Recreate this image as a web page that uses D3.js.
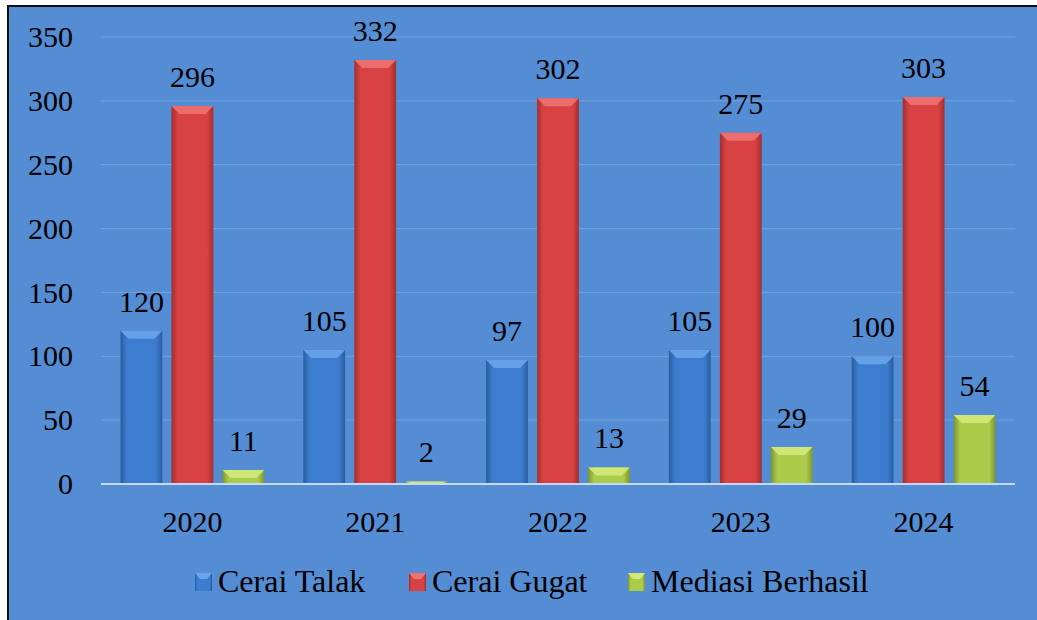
<!DOCTYPE html>
<html>
<head>
<meta charset="utf-8">
<script src="https://cdn.jsdelivr.net/npm/d3@7"></script>
<style>
  body { margin: 0; background: #fff; }
  svg { display: block; }
</style>
</head>
<body>
<div id="chart"></div>
<script>
const years = ["2020", "2021", "2022", "2023", "2024"];
const series = ["Cerai Talak", "Cerai Gugat", "Mediasi Berhasil"];
const ceraiTalak = [120, 105, 97, 105, 100];
const ceraiGugat = [296, 332, 302, 275, 303];
const mediasiBerhasil = [11, 2, 13, 29, 54];
const yTicks = [0, 50, 100, 150, 200, 250, 300, 350];

const width = 1037;
const height = 620;
const margin = {top: 37, right: 22, bottom: 136, left: 101};
const fontSize = 30;
const serif = "'Liberation Serif', 'Times New Roman', 'DejaVu Serif', serif";

const colors = {
  "Cerai Talak":      {mid: "#3c7dcf", edge: "#295d9e", top: "#6aa5ea"},
  "Cerai Gugat":      {mid: "#d84242", edge: "#a52e2e", top: "#ee7272"},
  "Mediasi Berhasil": {mid: "#abcb4b", edge: "#7c9530", top: "#d3ea7a"}
};

const rows = years.map((y, i) => ({
  year: y,
  values: [ceraiTalak[i], ceraiGugat[i], mediasiBerhasil[i]]
}));

const svg = d3.select("#chart")
  .append("svg")
  .attr("width", width)
  .attr("height", height)

// frame
svg.append("rect")
  .attr("x", 8).attr("y", 6)
  .attr("width", width - 8).attr("height", height - 6)
  .attr("fill", "#548dd4")
svg.append("line")
  .attr("x1", 8).attr("x2", 8).attr("y1", 5).attr("y2", height)
  .attr("stroke", "#111").attr("stroke-width", 2)
svg.append("line")
  .attr("x1", 7).attr("x2", width).attr("y1", 6).attr("y2", 6)
  .attr("stroke", "#111").attr("stroke-width", 2)

const defs = svg.append("defs");
series.forEach((s, i) => {
  const g = defs.append("linearGradient")
    .attr("id", "grad" + i)
    .attr("x1", "0%").attr("x2", "100%").attr("y1", "0%").attr("y2", "0%");
  g.append("stop").attr("offset", "0%").attr("stop-color", colors[s].edge);
  g.append("stop").attr("offset", "15%").attr("stop-color", colors[s].mid);
  g.append("stop").attr("offset", "85%").attr("stop-color", colors[s].mid);
  g.append("stop").attr("offset", "100%").attr("stop-color", colors[s].edge);
});

const x0 = d3.scaleBand()
  .domain(years)
  .range([margin.left, width - margin.right])
  .paddingInner(0)
  .paddingOuter(0);

const x1 = d3.scaleBand()
  .domain(series)
  .range([19.5, x0.bandwidth() - 19.5])
  .paddingInner(0.18);

const y = d3.scaleLinear()
  .domain([0, 350])
  .range([height - margin.bottom, margin.top]);

// gridlines
svg.append("g")
  .selectAll("line")
  .data(yTicks.filter(t => t > 0))
  .join("line")
  .attr("x1", margin.left).attr("x2", width - margin.right)
  .attr("y1", d => y(d)).attr("y2", d => y(d))
  .attr("stroke", "#6a9fe0").attr("stroke-width", 1.2)

// y axis labels
const yAxis = svg.append("g")
  .attr("transform", `translate(${margin.left - 28},0)`)
  .call(d3.axisLeft(y).tickValues(yTicks).tickSize(0).tickPadding(0))
yAxis.select(".domain").remove()
yAxis.selectAll("text")
  .style("font-family", serif)
  .attr("font-size", fontSize)
  .attr("fill", "#000")

// bars
const groups = svg.append("g")
  .selectAll("g")
  .data(rows)
  .join("g")
  .attr("transform", d => `translate(${x0(d.year)},0)`)

const bars = groups.selectAll("g")
  .data(d => d.values.map((v, i) => ({key: series[i], idx: i, value: v})))
  .join("g")

bars.append("rect")
  .attr("x", d => x1(d.key))
  .attr("y", d => y(d.value))
  .attr("width", x1.bandwidth())
  .attr("height", d => y(0) - y(d.value))
  .attr("fill", d => `url(#grad${d.idx})`)

// bevel on top
bars.append("path")
  .attr("d", d => {
    const bx = x1(d.key), bw = x1.bandwidth(), by = y(d.value);
    const h = Math.min(8, y(0) - by);
    return `M${bx},${by} L${bx + bw},${by} L${bx + bw - 8},${by + h} L${bx + 8},${by + h} Z`;
  })
  .attr("fill", d => colors[d.key].top)
  .attr("opacity", 0.9)

bars.append("text")
  .attr("x", d => x1(d.key) + x1.bandwidth() / 2)
  .attr("y", d => y(d.value) - 19)
  .attr("text-anchor", "middle")
  .style("font-family", serif)
  .attr("font-size", fontSize)
  .attr("fill", "#000")
  .text(d => d.value)

// baseline
svg.append("line")
  .attr("x1", margin.left).attr("x2", width - margin.right)
  .attr("y1", y(0)).attr("y2", y(0))
  .attr("stroke", "#c6d9f1").attr("stroke-width", 2)

// x axis labels
const xAxis = svg.append("g")
  .attr("transform", `translate(0,${y(0)})`)
  .call(d3.axisBottom(x0).tickSize(0).tickPadding(27))
xAxis.select(".domain").remove()
xAxis.selectAll("text")
  .style("font-family", serif)
  .attr("font-size", fontSize)
  .attr("fill", "#000")

// legend
const legendX = [195, 409, 628];
const legend = svg.append("g")
  .selectAll("g")
  .data(series)
  .join("g")
  .attr("transform", (d, i) => `translate(${legendX[i]},573)`)

legend.append("rect")
  .attr("width", 17).attr("height", 18)
  .attr("fill", (d, i) => `url(#grad${i})`)
legend.append("path")
  .attr("d", "M0,0 L17,0 L12,6 L5,6 Z")
  .attr("fill", d => colors[d].top)
legend.append("text")
  .attr("x", 23).attr("y", 19)
  .style("font-family", serif)
  .attr("font-size", 32)
  .attr("fill", "#000")
  .text(d => d)
</script>
</body>
</html>
